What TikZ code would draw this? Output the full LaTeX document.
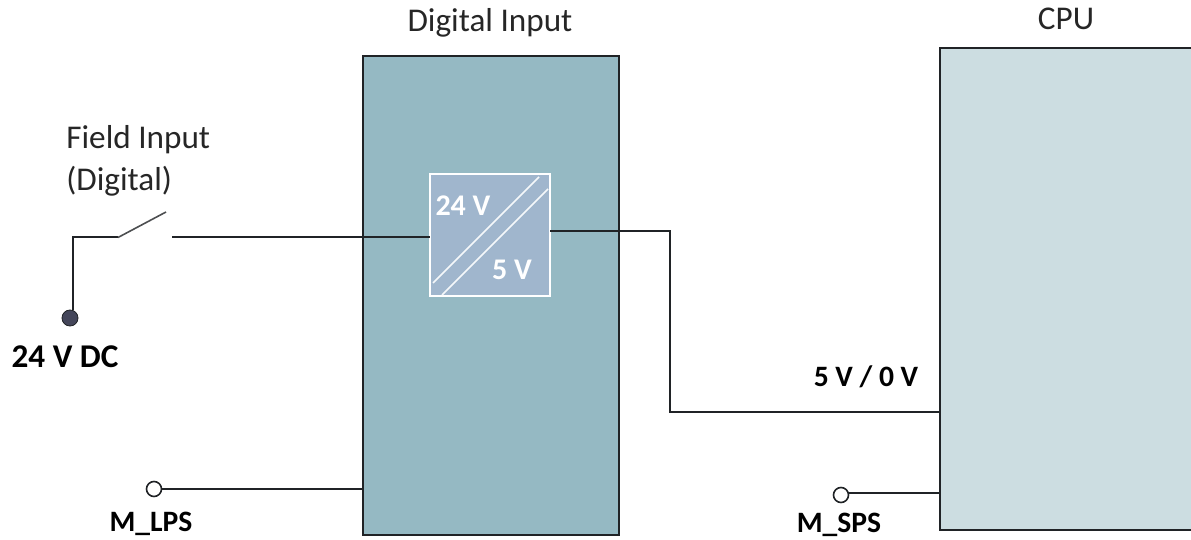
\documentclass[tikz,border=0pt]{standalone}
\usepackage{fontspec}
\setmainfont{Carlito}
\definecolor{modfill}{HTML}{95B9C3}
\definecolor{cpufill}{HTML}{CCDDE1}
\definecolor{convfill}{HTML}{A0B6CD}
\definecolor{linedark}{HTML}{202326}
\definecolor{dotfill}{HTML}{44465A}
\tikzset{
  px/.style={x=0.5pt,y=-0.5pt},
  block/.style={draw=linedark,line width=1pt,inner sep=0pt,outer sep=0pt,rectangle},
  conv/.style={draw=white,fill=convfill,line width=0.7pt,inner sep=0pt,outer sep=0pt,rectangle,minimum width=60pt,minimum height=61pt},
  wire/.style={draw=linedark,line width=1pt},
  blade/.style={draw=linedark!80,line width=0.8pt},
  diag/.style={draw=white!90!convfill,line width=0.8pt},
  lab/.style={font=\fontsize{16.6}{20}\selectfont,text=black!85,inner sep=0pt},
  blab/.style={font=\fontsize{16.6}{20}\selectfont\bfseries,text=black,inner sep=0pt},
  mlab/.style={font=\fontsize{14.8}{18}\selectfont\bfseries,text=black,inner sep=0pt},
  wlab/.style={font=\fontsize{15}{18}\selectfont\bfseries,text=white,inner sep=0pt},
  opendot/.style={circle,draw=linedark,fill=white,line width=0.8pt,minimum size=7.5pt,inner sep=0pt,outer sep=0pt},
  fulldot/.style={circle,draw=linedark,fill=dotfill,line width=0.4pt,minimum size=8pt,inner sep=0pt,outer sep=0pt}
}
\begin{document}
\begin{tikzpicture}[px]
\useasboundingbox (0,0) rectangle (1191,540);
\clip (0,0) rectangle (1191,540);
% blocks
\node[block,fill=modfill,minimum width=128pt,minimum height=239.5pt] (dig) at (491,295.5) {};
\node[block,fill=cpufill,minimum width=140pt,minimum height=241pt] (cpu) at (1080,289) {};
\node[conv] (cv) at (490,235) {};
% converter diagonals
\coordinate (d1a) at (433,283); \coordinate (d1b) at (539,177);
\coordinate (d2a) at (442,295); \coordinate (d2b) at (548,189);
\draw[diag] (d1a) -- (d1b);
\draw[diag] (d2a) -- (d2b);
\node[wlab] (t24) at (463,206) {24 V};
\node[wlab] (t5) at (512,270) {5 V};
% titles
\node[lab] (tdig) at (490,23) {Digital Input};
\node[lab] (tcpu) at (1066,19) {CPU};
\node[lab,anchor=west] (tf1) at (66,140) {Field Input};
\node[lab,anchor=west] (tf2) at (66,181) {(Digital)};
% field input wiring
\node[fulldot] (src) at (70,318) {};
\coordinate (c1) at (73,237.5);
\coordinate (sw1) at (118,237.5);
\coordinate (sw2) at (166,212);
\coordinate (sw3) at (172,237.5);
\coordinate (cvin) at (cv.west|-sw3);
\draw[wire] (src.north-|c1) -- (c1) -- (sw1);
\draw[blade] (sw1) -- (sw2);
\draw[wire] (sw3) -- (cvin);
\node[blab] (t24dc) at (65,357) {24 V DC};
% converter to CPU
\coordinate (o1) at (550,231.5);
\coordinate (o2) at (670,231.5);
\coordinate (o3) at (670,412);
\coordinate (cpuin) at (cpu.west|-o3);
\draw[wire] (o1) -- (o2) -- (o3) -- (cpuin);
\node[mlab] (t50) at (866,377) {5 V / 0 V};
% grounds
\node[opendot] (mlps) at (154,489) {};
\coordinate (diglp) at (dig.west|-mlps);
\draw[wire] (mlps) -- (diglp);
\node[mlab] (tlps) at (151,524) {M\_LPS};
\node[opendot] (msps) at (841,495) {};
\coordinate (cpusp) at (cpu.west|-0,493);
\draw[wire] (msps.east|-cpusp) -- (cpusp);
\node[mlab] (tsps) at (839,525) {M\_SPS};
\end{tikzpicture}
\end{document}
